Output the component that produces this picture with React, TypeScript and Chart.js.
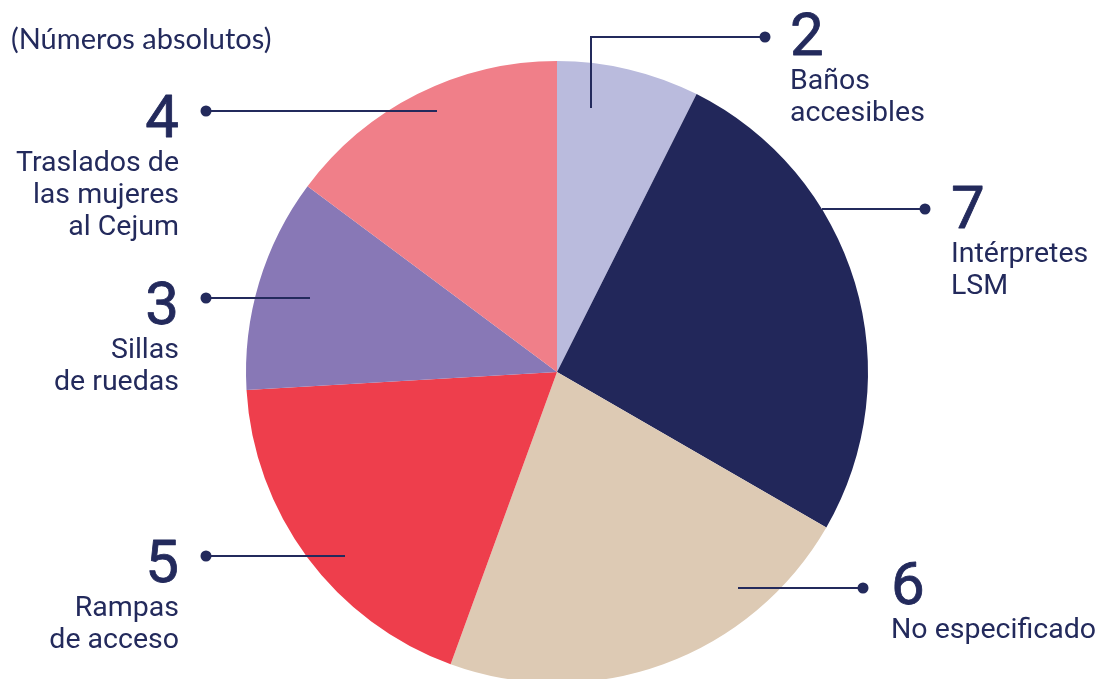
import { useEffect, useRef } from "react";
import { Chart, registerables } from "chart.js";

Chart.register(...registerables);

const categories = [
  "Baños accesibles",
  "Intérpretes LSM",
  "No especificado",
  "Rampas de acceso",
  "Sillas de ruedas",
  "Traslados de las mujeres al Cejum",
];
const values = [2, 7, 6, 5, 3, 4];
const labelLines = [
  ["Baños", "accesibles"],
  ["Intérpretes", "LSM"],
  ["No especificado"],
  ["Rampas", "de acceso"],
  ["Sillas", "de ruedas"],
  ["Traslados de", "las mujeres", "al Cejum"],
];
const sliceColors = ["#babbdd", "#22275a", "#ddcab4", "#ee3e4c", "#8878b6", "#f07f89"];
const titleText = "(Números absolutos)";

// callout layout (annotation positions, not data)
const callouts = [
  { side: "right", dot: [765, 37], path: [[591, 37], [591, 108]], textX: 790, numBase: 55 },
  { side: "right", dot: [925, 209], path: [[822, 209]], textX: 951, numBase: 228 },
  { side: "right", dot: [863, 588], path: [[738, 588]], textX: 891, numBase: 604 },
  { side: "left", dot: [206, 556], path: [[345, 556]], textX: 179, numBase: 582 },
  { side: "left", dot: [206, 298], path: [[310, 298]], textX: 179, numBase: 324 },
  { side: "left", dot: [206, 111], path: [[437, 111]], textX: 179, numBase: 137 },
];

const INK = "#232a5c";

const calloutPlugin = {
  id: "callouts",
  afterDraw(chart: any) {
    const ctx = chart.ctx as CanvasRenderingContext2D;
    ctx.save();
    // title
    ctx.fillStyle = INK;
    ctx.font = "400 29px Lato";
    ctx.textAlign = "left";
    ctx.textBaseline = "alphabetic";
    ctx.fillText(titleText, 11, 49);

    const ds = chart.data.datasets[0];
    callouts.forEach((c, i) => {
      // line
      ctx.strokeStyle = INK;
      ctx.lineWidth = 2;
      ctx.beginPath();
      ctx.moveTo(c.dot[0], c.dot[1]);
      c.path.forEach((p) => ctx.lineTo(p[0], p[1]));
      ctx.stroke();
      // dot
      ctx.fillStyle = INK;
      ctx.beginPath();
      ctx.arc(c.dot[0], c.dot[1], 5.5, 0, Math.PI * 2);
      ctx.fill();
      // number (regular weight, slightly emboldened to look medium)
      ctx.textAlign = c.side === "left" ? "right" : "left";
      ctx.font = "400 60px Roboto";
      ctx.fillText(String(ds.data[i]), c.textX, c.numBase);
      ctx.lineWidth = 0.8;
      ctx.lineJoin = "round";
      ctx.strokeText(String(ds.data[i]), c.textX, c.numBase);
      // label
      ctx.font = "400 28.5px Roboto";
      labelLines[i].forEach((ln, k) => {
        ctx.fillText(ln, c.textX, c.numBase + 34 + k * 32);
      });
    });
    ctx.restore();
  },
};

export default function App() {
  const ref = useRef<HTMLCanvasElement | null>(null);
  useEffect(() => {
    if (!ref.current) return;
    const chart = new Chart(ref.current, {
      type: "pie",
      data: {
        labels: categories,
        datasets: [
          {
            data: values,
            backgroundColor: sliceColors,
            borderWidth: 0,
            hoverOffset: 0,
            offset: 0,
          } as any,
        ],
      },
      options: {
        responsive: false,
        animation: false,
        events: [],
        layout: { padding: { left: 246, right: 233, top: 61, bottom: 17 } },
        plugins: {
          legend: { display: false },
          tooltip: { enabled: false },
          title: { display: false },
        },
      },
      plugins: [calloutPlugin],
    });
    return () => chart.destroy();
  }, []);
  return (
    <div
      style={{
        position: "fixed",
        left: 0,
        top: 0,
        width: 1101,
        height: 679,
        overflow: "hidden",
        background: "#ffffff",
      }}
    >
      <canvas ref={ref} width={1101} height={700} style={{ display: "block", width: 1101, height: 700 }} />
    </div>
  );
}
